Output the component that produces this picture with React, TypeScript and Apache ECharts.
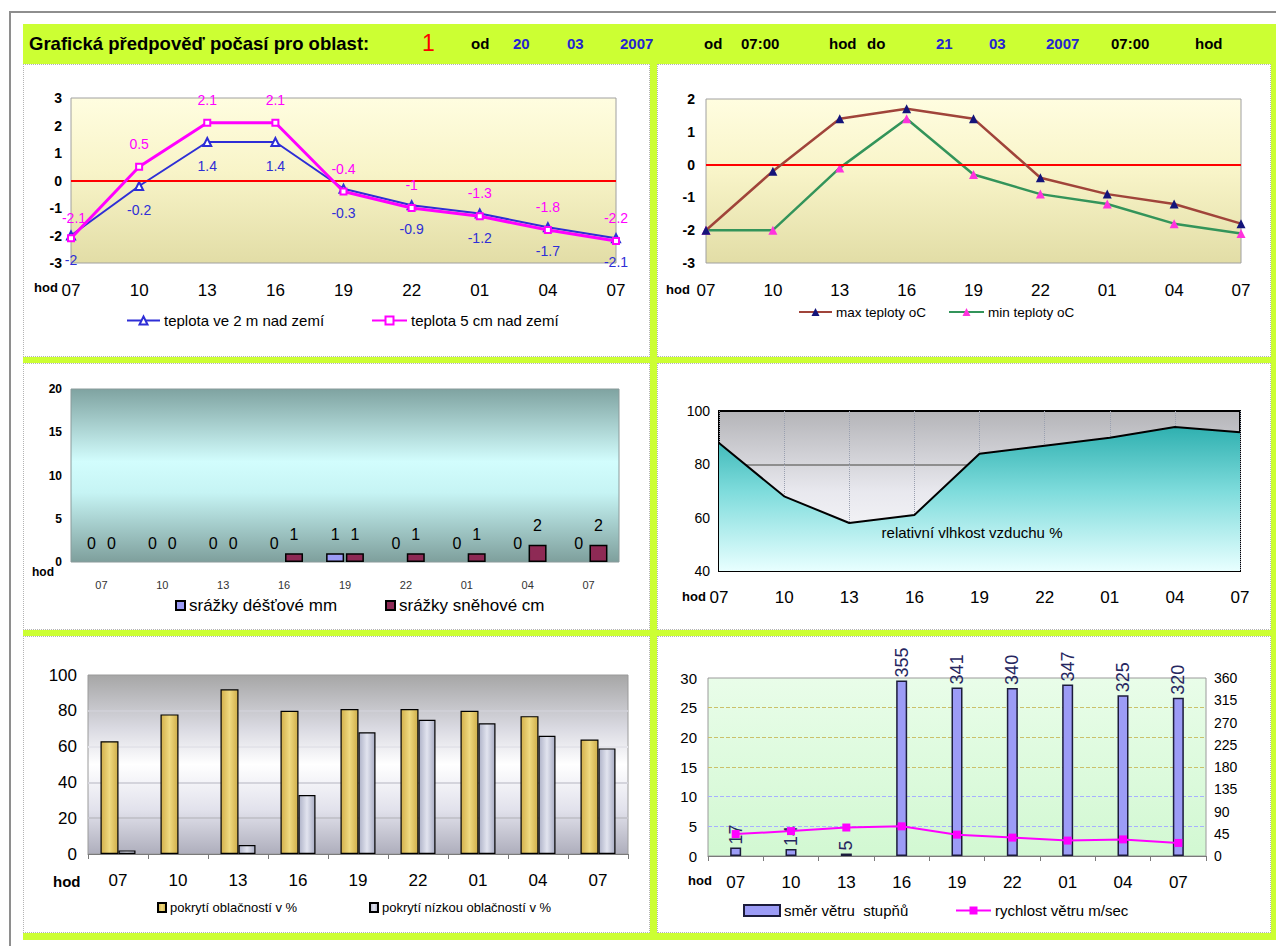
import React, { useEffect, useRef } from "react";
import * as echarts from "echarts";

const FONT = 'Arial, "Liberation Sans", Helvetica, sans-serif';

// forecast hours (07:00 on day 1 to 07:00 on day 2)
const hours = ["07", "10", "13", "16", "19", "22", "01", "04", "07"];

// temperature near ground
const temp2m = [-2, -0.2, 1.4, 1.4, -0.3, -0.9, -1.2, -1.7, -2.1];
const temp5cm = [-2.1, 0.5, 2.1, 2.1, -0.4, -1, -1.3, -1.8, -2.2];

// max / min temperatures
const tempMax = [-2, -0.2, 1.4, 1.7, 1.4, -0.4, -0.9, -1.2, -1.8];
const tempMin = [-2, -2, -0.1, 1.4, -0.3, -0.9, -1.2, -1.8, -2.1];

// precipitation
const rainMm = [0, 0, 0, 0, 1, 0, 0, 0, 0];
const snowCm = [0, 0, 0, 1, 1, 1, 1, 2, 2];

// relative humidity %
const humidity = [88, 68, 58, 61, 84, 87, 90, 94, 92];

// cloud cover %
const cloudTotal = [63, 78, 92, 80, 81, 81, 80, 77, 64];
const cloudLow = [2, 0, 5, 33, 68, 75, 73, 66, 59];

// wind
const windDir = [17, 14, 5, 355, 341, 340, 347, 325, 320];
const windSpeed = [3.7, 4.2, 4.8, 5, 3.6, 3.1, 2.6, 2.8, 2.2];

// header line
const headerParts: Array<{ t: string; x: number; c: string; s: number; w: string }> = [
  { t: "Grafická předpověď počasí pro oblast:", x: 29, c: "#000", s: 18.5, w: "bold" },
  { t: "1", x: 422, c: "#ff0000", s: 23, w: "normal" },
  { t: "od", x: 471, c: "#000", s: 15, w: "bold" },
  { t: "20", x: 513, c: "#2424d0", s: 15, w: "bold" },
  { t: "03", x: 567, c: "#2424d0", s: 15, w: "bold" },
  { t: "2007", x: 620, c: "#2424d0", s: 15, w: "bold" },
  { t: "od", x: 704, c: "#000", s: 15, w: "bold" },
  { t: "07:00", x: 741, c: "#000", s: 15, w: "bold" },
  { t: "hod", x: 829, c: "#000", s: 15, w: "bold" },
  { t: "do", x: 867, c: "#000", s: 15, w: "bold" },
  { t: "21", x: 936, c: "#2424d0", s: 15, w: "bold" },
  { t: "03", x: 989, c: "#2424d0", s: 15, w: "bold" },
  { t: "2007", x: 1046, c: "#2424d0", s: 15, w: "bold" },
  { t: "07:00", x: 1111, c: "#000", s: 15, w: "bold" },
  { t: "hod", x: 1195, c: "#000", s: 15, w: "bold" },
];

const linear = (stops: Array<[number, string]>, horizontal = false) => ({
  type: "linear",
  x: 0,
  y: 0,
  x2: horizontal ? 1 : 0,
  y2: horizontal ? 0 : 1,
  colorStops: stops.map(([offset, color]) => ({ offset, color })),
});

const txt = (text: string, x: number, y: number, o: any = {}) => ({
  type: "text",
  x,
  y,
  silent: true,
  z: 50,
  style: {
    text,
    fill: o.fill || "#000",
    fontSize: o.size || 13,
    fontWeight: o.weight || "normal",
    fontFamily: FONT,
    verticalAlign: "middle",
    align: o.align || "left",
  },
});

const catAxis = (gridIndex: number, o: any) => ({
  type: "category",
  gridIndex,
  data: hours,
  boundaryGap: o.gap,
  axisLine: { show: !!o.line, onZero: false, lineStyle: { color: "#7a7a7a", width: 1 } },
  axisTick: { show: !!o.ticks, length: 5, lineStyle: { color: "#7a7a7a" } },
  axisLabel: {
    interval: 0,
    margin: o.margin,
    fontSize: o.size,
    color: o.color || "#000",
    fontWeight: o.weight || "normal",
    fontFamily: FONT,
  },
  splitLine: o.split || { show: false },
});

const valAxis = (gridIndex: number, min: number, max: number, interval: number, o: any) => ({
  type: "value",
  gridIndex,
  min,
  max,
  interval,
  position: o.pos || "left",
  axisLine: { show: false },
  axisTick: { show: false },
  axisLabel: {
    margin: o.margin,
    fontSize: o.size,
    fontWeight: o.weight || "normal",
    color: "#000",
    fontFamily: FONT,
  },
  splitLine: o.split || { show: false },
});

const legend = (name: string, left: number, top: number, size: number, w: number, h: number, icon?: string) => ({
  data: [name],
  left,
  top,
  padding: 0,
  itemWidth: w,
  itemHeight: h,
  itemGap: 0,
  icon,
  selectedMode: false,
  textStyle: { fontSize: size, color: "#000", fontFamily: FONT, padding: [0, 0, 0, -1] },
});

// zero-height bars get no outline
const barData = (values: number[]) =>
  values.map((v) => (v === 0 ? { value: v, itemStyle: { borderWidth: 0 } } : v));

const zeroLine = {
  silent: true,
  symbol: "none",
  label: { show: false },
  lineStyle: { color: "#ff0000", width: 2, type: "solid" },
  data: [{ yAxis: 0 }],
};

const yellowBg = linear([
  [0, "#fffde0"],
  [0.45, "#f8f4c8"],
  [1, "#e2dda6"],
]);

function buildOption(): any {
  const grids = [
    { left: 71, top: 98, width: 545, height: 165, show: true, backgroundColor: yellowBg, borderColor: "#a0a0a0", borderWidth: 1 },
    { left: 706, top: 99, width: 535, height: 164, show: true, backgroundColor: yellowBg, borderColor: "#a0a0a0", borderWidth: 1 },
    {
      left: 71, top: 389, width: 548, height: 173, show: true, borderColor: "#8a9a9a", borderWidth: 1,
      backgroundColor: linear([
        [0, "#7fa3a1"],
        [0.42, "#d2fdfd"],
        [0.6, "#c6f4f4"],
        [1, "#7e9f9c"],
      ]),
    },
    {
      left: 719, top: 411, width: 521, height: 160, show: true, borderColor: "#000", borderWidth: 2,
      backgroundColor: linear([
        [0, "#b4b4b8"],
        [0.5, "#e8e8ee"],
        [1, "#ffffff"],
      ]),
    },
    {
      left: 88, top: 675, width: 540, height: 179, show: true, borderColor: "#9a9a9a", borderWidth: 1,
      backgroundColor: linear([
        [0, "#a6a6a6"],
        [0.3, "#dadae2"],
        [0.5, "#ffffff"],
        [0.75, "#e2e2ec"],
        [1, "#aeaebc"],
      ]),
    },
    {
      left: 708, top: 678, width: 498, height: 178, show: true, borderColor: "#9a9a9a", borderWidth: 1,
      backgroundColor: linear([
        [0, "#e9fde9"],
        [1, "#d2f8d2"],
      ]),
    },
  ].map((g) => ({ ...g, containLabel: false, outerBoundsMode: "none" }));

  const xAxis = [
    catAxis(0, { gap: false, margin: 19, size: 17 }),
    catAxis(1, { gap: false, margin: 19, size: 17 }),
    catAxis(2, { gap: true, margin: 17, size: 11, color: "#333" }),
    catAxis(3, {
      gap: false, margin: 18, size: 17,
      split: { show: true, lineStyle: { color: "#9aa0b0", type: "dotted", width: 1 } },
    }),
    catAxis(4, { gap: true, margin: 18, size: 17, line: true, ticks: true }),
    catAxis(5, { gap: true, margin: 18, size: 17, line: true, ticks: true }),
  ];

  const yAxis = [
    valAxis(0, -3, 3, 1, { margin: 9, size: 14, weight: "bold" }),
    valAxis(1, -3, 2, 1, { margin: 11, size: 14, weight: "bold" }),
    valAxis(2, 0, 20, 5, { margin: 9, size: 12, weight: "bold" }),
    valAxis(3, 40, 100, 20, {
      margin: 9, size: 14,
      split: { show: true, lineStyle: { color: ["transparent", "transparent", "#8e8e8e", "transparent"], width: 2 } },
    }),
    valAxis(4, 0, 100, 20, {
      margin: 11, size: 17,
      split: { show: true, lineStyle: { color: ["transparent", "#c4c4cc", "#d4d4dc", "#e4e4ea", "#cfcfd6", "transparent"], width: 2 } },
    }),
    valAxis(5, 0, 30, 5, {
      margin: 11, size: 15,
      split: {
        show: true,
        lineStyle: {
          type: "dashed",
          color: ["transparent", "#a7b0ff", "#a7b0ff", "#cbc06a", "#cbc06a", "#cbc06a", "transparent"],
        },
      },
    }),
    valAxis(5, 0, 360, 45, { margin: 8, size: 14, pos: "right" }),
  ];

  const series: any[] = [
    {
      type: "line", name: "teplota ve 2 m nad zemí", xAxisIndex: 0, yAxisIndex: 0, data: temp2m,
      symbol: "emptyTriangle", symbolSize: 8, z: 4,
      lineStyle: { color: "#2e2ed6", width: 2 }, itemStyle: { color: "#2e2ed6" },
      label: { show: true, position: "bottom", distance: 12, color: "#2e2ed6", fontSize: 14, fontFamily: FONT },
      markLine: zeroLine,
    },
    {
      type: "line", name: "teplota 5 cm nad zemí", xAxisIndex: 0, yAxisIndex: 0,
      data: temp5cm.map((v, i) => (i === 0 ? { value: v, label: { offset: [3, 3] } } : v)),
      symbol: "emptyRect", symbolSize: 6, z: 5,
      lineStyle: { color: "#ff00ff", width: 3 }, itemStyle: { color: "#ff00ff" },
      label: { show: true, position: "top", distance: 12, color: "#ff00ff", fontSize: 14, fontFamily: FONT },
    },
    {
      type: "line", name: "max teploty oC", xAxisIndex: 1, yAxisIndex: 1, data: tempMax,
      symbol: "triangle", symbolSize: 9, z: 5,
      lineStyle: { color: "#a0443a", width: 2.5 }, itemStyle: { color: "#14147a" },
      markLine: zeroLine,
    },
    {
      type: "line", name: "min teploty oC", xAxisIndex: 1, yAxisIndex: 1, data: tempMin,
      symbol: "triangle", symbolSize: 9, z: 4,
      lineStyle: { color: "#33945a", width: 2.5 }, itemStyle: { color: "#ff33dd" },
    },
    {
      type: "bar", name: "srážky déšťové mm", xAxisIndex: 2, yAxisIndex: 2, data: barData(rainMm),
      barWidth: 18, barGap: "10%",
      itemStyle: { color: "#9b9bf5", borderColor: "#000", borderWidth: 1.5 },
      label: { show: true, position: "top", distance: 11, color: "#000", fontSize: 16, fontFamily: FONT },
    },
    {
      type: "bar", name: "srážky sněhové cm", xAxisIndex: 2, yAxisIndex: 2, data: barData(snowCm),
      barWidth: 18, barGap: "10%",
      itemStyle: { color: "#8e2a55", borderColor: "#000", borderWidth: 1.5 },
      label: { show: true, position: "top", distance: 11, color: "#000", fontSize: 16, fontFamily: FONT },
    },
    {
      type: "line", name: "relativní vlhkost vzduchu %", xAxisIndex: 3, yAxisIndex: 3, data: humidity,
      symbol: "none", z: 3,
      lineStyle: { color: "#000", width: 2 },
      areaStyle: {
        opacity: 1,
        color: linear([
          [0, "#2fb0b0"],
          [0.45, "#7fdcdc"],
          [1, "#e8ffff"],
        ]),
      },
    },
    {
      type: "bar", name: "pokrytí oblačností v %", xAxisIndex: 4, yAxisIndex: 4, data: barData(cloudTotal),
      barWidth: 18, barGap: "0%",
      itemStyle: {
        borderColor: "#000", borderWidth: 1.2,
        color: linear([[0, "#d2b04c"], [0.5, "#f0da80"], [1, "#cfae4a"]], true),
      },
    },
    {
      type: "bar", name: "pokrytí nízkou oblačností v %", xAxisIndex: 4, yAxisIndex: 4, data: barData(cloudLow),
      barWidth: 17, barGap: "0%",
      itemStyle: {
        borderColor: "#000", borderWidth: 1.2,
        color: linear([[0, "#aeb2c8"], [0.5, "#e2e4ef"], [1, "#a9adc4"]], true),
      },
    },
    {
      type: "bar", name: "směr větru  stupňů", xAxisIndex: 5, yAxisIndex: 6, data: windDir,
      barWidth: 11, z: 2,
      itemStyle: { color: "#9c9cf6", borderColor: "#1c1c3c", borderWidth: 1.5 },
      label: {
        show: true, position: "top", rotate: 90, align: "left", verticalAlign: "middle",
        distance: 3, color: "#262660", fontSize: 18, fontFamily: FONT,
      },
    },
    {
      type: "line", name: "rychlost větru m/sec", xAxisIndex: 5, yAxisIndex: 5, data: windSpeed,
      symbol: "rect", symbolSize: 8, z: 6,
      lineStyle: { color: "#ff00ff", width: 2 }, itemStyle: { color: "#ff00ff" },
    },
  ];

  const legends = [
    legend("teplota ve 2 m nad zemí", 126, 313, 15, 33, 10),
    legend("teplota 5 cm nad zemí", 371, 313, 15, 35, 10),
    legend("max teploty oC", 798, 305, 13.5, 33, 10),
    legend("min teploty oC", 948, 305, 13.5, 35, 10),
    legend("srážky déšťové mm", 175, 597, 17, 9, 9, "rect"),
    legend("srážky sněhové cm", 385, 597, 17, 9, 9, "rect"),
    legend("pokrytí oblačností v %", 157, 901, 13, 8, 9, "rect"),
    legend("pokrytí nízkou oblačností v %", 369, 901, 13, 8, 9, "rect"),
    legend("směr větru  stupňů", 743, 903, 15, 36, 11, "rect"),
    legend("rychlost větru m/sec", 955, 903, 15, 35, 10),
  ];

  const graphic = [
    ...headerParts.map((p) => txt(p.t, p.x, 43, { fill: p.c, size: p.s, weight: p.w })),
    txt("hod", 34, 287, { weight: "bold", size: 13 }),
    txt("hod", 666, 289, { weight: "bold", size: 13 }),
    txt("hod", 32, 572, { weight: "bold", size: 12 }),
    txt("hod", 682, 596, { weight: "bold", size: 13 }),
    txt("hod", 53, 881, { weight: "bold", size: 15 }),
    txt("hod", 688, 880, { weight: "bold", size: 13 }),
    txt("relativní vlhkost vzduchu %", 972, 532, { size: 15, align: "center" }),
  ];

  return {
    animation: false,
    backgroundColor: "transparent",
    grid: grids,
    xAxis,
    yAxis,
    legend: legends,
    series,
    graphic,
  };
}

const panels = [
  { left: 23, top: 64, width: 627, height: 293 },
  { left: 657, top: 64, width: 614, height: 293 },
  { left: 23, top: 363, width: 627, height: 267 },
  { left: 657, top: 363, width: 614, height: 267 },
  { left: 23, top: 636, width: 627, height: 297 },
  { left: 657, top: 636, width: 614, height: 297 },
];

export default function App() {
  const ref = useRef<HTMLDivElement>(null);

  useEffect(() => {
    if (!ref.current) return;
    const chart = echarts.init(ref.current, undefined, { renderer: "svg" });
    chart.setOption(buildOption());
    return () => chart.dispose();
  }, []);

  return (
    <div style={{ position: "fixed", left: 0, top: 0, width: 1276, height: 946, background: "#fff", overflow: "hidden" }}>
      <div
        style={{
          position: "absolute", left: 9, top: 11, width: 1280, height: 950,
          borderLeft: "2px solid #8e8e8e", borderTop: "2px solid #8e8e8e", boxSizing: "border-box",
        }}
      />
      <div style={{ position: "absolute", left: 23, top: 24, width: 1253, height: 916, background: "#ccff33" }} />
      {panels.map((p, i) => (
        <div
          key={i}
          style={{
            position: "absolute", ...p, background: "#fff",
            border: "1px dotted #b4b4b4", boxSizing: "border-box",
          }}
        />
      ))}
      <div ref={ref} style={{ position: "absolute", left: 0, top: 0, width: 1276, height: 946 }} />
    </div>
  );
}
